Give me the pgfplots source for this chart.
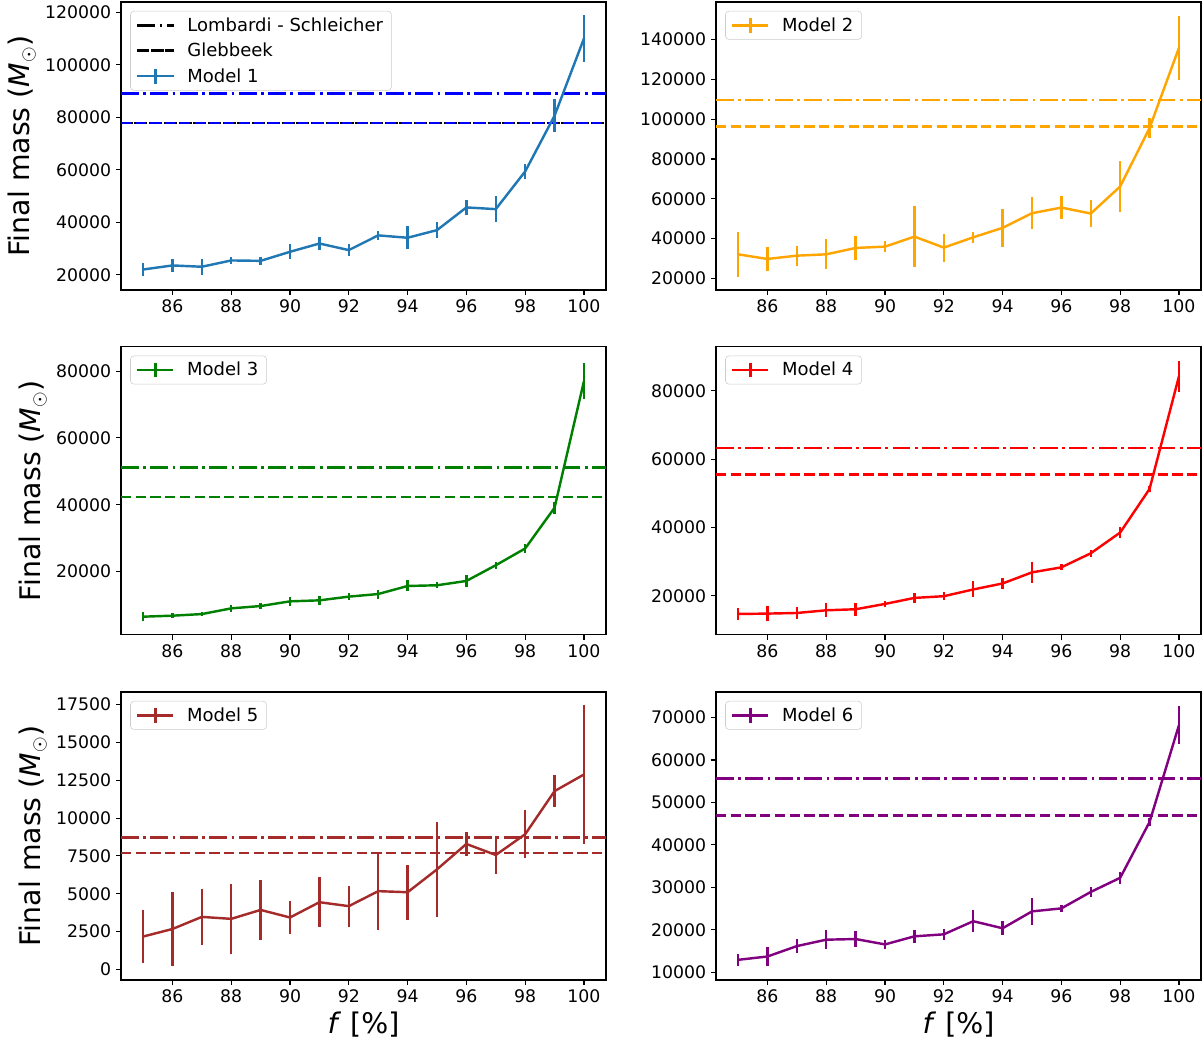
\documentclass[border=0pt]{standalone}
\usepackage{fontspec}
\setmainfont{DejaVu Sans}
\usepackage{pgfplots}
\pgfplotsset{compat=1.18}

\definecolor{c0}{HTML}{1F77B4}
\definecolor{morange}{HTML}{FFA500}
\definecolor{mgreen}{HTML}{008000}
\definecolor{mred}{HTML}{FF0000}
\definecolor{mbrown}{HTML}{A52A2A}
\definecolor{mpurple}{HTML}{800080}
\definecolor{mblue}{HTML}{0000FF}

\pgfplotsset{
  panel/.style={
    scale only axis, width=349.2bp, height=207.36bp, anchor=south west,
    xmin=84.25, xmax=100.75, xtick={86,88,...,100},
    xtick pos=bottom, ytick pos=left,
    tick align=outside, major tick length=3.5bp,
    tick style={black, line width=0.8bp},
    axis line style={line width=0.8bp},
    ticklabel style={font=\fontsize{12.5}{14}\selectfont},
    /pgf/number format/assume math mode=true,
    /pgf/number format/fixed,
    /pgf/number format/precision=0,
    /pgf/number format/1000 sep={},
    scaled y ticks=false,
    label style={font=\fontsize{20.5}{24}\selectfont},
    legend cell align=left,
    legend style={at={(0.019,0.969)}, anchor=north west,
      draw=black!20, fill=white, fill opacity=0.8, draw opacity=1, text opacity=1,
      rounded corners=2.5bp, font=\fontsize{13}{15}\selectfont,
      inner xsep=4bp, inner ysep=2.5bp, row sep=3bp,
      nodes={inner sep=2bp},
      /tikz/every odd column/.append style={column sep=7bp}},
  },
  model/.style={color=#1, line width=1.75bp, mark=none,
    legend image code/.code={
      \draw[##1] (0bp,0bp) -- (26bp,0bp);
      \draw[##1] (13bp,-5.3bp) -- (13bp,5.3bp);},
    error bars/.cd, y dir=both, y explicit, error mark=none,
    error bar style={line width=1.75bp, solid}},
  hl/.style={line width=2bp, mark=none,
    legend image code/.code={\draw[##1] (0bp,0bp) -- (26bp,0bp);}},
  ls/.style={hl, dash pattern=on 12.8bp off 3.2bp on 2bp off 3.2bp},
  gl/.style={hl, dash pattern=on 7.4bp off 3.2bp},
}

\begin{document}
\begin{tikzpicture}
\path[use as bounding box] (0,0) rectangle (865.44bp,750.96bp);

% Model 1
\begin{axis}[panel, at={(87.12bp,542.16bp)}, ymin=14200, ymax=123900,
  ytick={20000,40000,...,120000}, ylabel={Final mass (\textit{M}$_\odot$)}]
  \addplot[ls, black] coordinates {(84.25,89070) (100.75,89070)};
  \addlegendentry{Lombardi - Schleicher}
  \addplot[gl, black, dash pattern=on 9.4bp off 1.2bp, dash phase=1bp] coordinates {(84.25,77800) (100.75,77800)};
  \addlegendentry{Glebbeek}
  \addplot[ls, mblue, forget plot] coordinates {(84.25,89070) (100.75,89070)};
  \addplot[gl, mblue, forget plot] coordinates {(84.25,77800) (100.75,77800)};
  \addplot[model=c0] coordinates {
    (85,22000) +- (0,2300)
    (86,23550) +- (0,2500)
    (87,23050) +- (0,3000)
    (88,25450) +- (0,1300)
    (89,25300) +- (0,1400)
    (90,28750) +- (0,2800)
    (91,31900) +- (0,2400)
    (92,29400) +- (0,2400)
    (93,35000) +- (0,1800)
    (94,34100) +- (0,4400)
    (95,37000) +- (0,3000)
    (96,45650) +- (0,2900)
    (97,45000) +- (0,5000)
    (98,59350) +- (0,2900)
    (99,80600) +- (0,6300)
    (100,110000) +- (0,8900)
  };
  \addlegendentry{Model 1}
\end{axis}

% Model 2
\begin{axis}[panel, at={(515.52bp,542.16bp)}, ymin=14180, ymax=158900,
  ytick={20000,40000,...,140000}]
  \addplot[ls, morange, forget plot] coordinates {(84.25,109670) (100.75,109670)};
  \addplot[gl, morange, forget plot] coordinates {(84.25,96420) (100.75,96420)};
  \addplot[model=morange] coordinates {
    (85,32100) +- (0,11340)
    (86,29770) +- (0,6000)
    (87,31430) +- (0,5000)
    (88,32100) +- (0,7470)
    (89,35300) +- (0,6200)
    (90,35970) +- (0,2770)
    (91,41000) +- (0,15450)
    (92,35470) +- (0,7050)
    (93,40650) +- (0,2770)
    (94,45400) +- (0,9660)
    (95,52750) +- (0,8060)
    (96,55600) +- (0,5620)
    (97,52600) +- (0,6970)
    (98,66200) +- (0,12850)
    (99,95570) +- (0,4870)
    (100,135870) +- (0,15950)
  };
  \addlegendentry{Model 2}
\end{axis}

% Model 3
\begin{axis}[panel, at={(87.12bp,293.98bp)}, ymin=1100, ymax=87300,
  ytick={20000,40000,...,80000}, ylabel={Final mass (\textit{M}$_\odot$)}]
  \addplot[ls, mgreen, forget plot] coordinates {(84.25,51230) (100.75,51230)};
  \addplot[gl, mgreen, forget plot] coordinates {(84.25,42310) (100.75,42310)};
  \addplot[model=mgreen] coordinates {
    (85,6490) +- (0,1400)
    (86,6790) +- (0,800)
    (87,7270) +- (0,650)
    (88,8980) +- (0,950)
    (89,9680) +- (0,800)
    (90,11080) +- (0,1400)
    (91,11380) +- (0,1250)
    (92,12490) +- (0,1000)
    (93,13270) +- (0,1350)
    (94,15680) +- (0,1650)
    (95,15890) +- (0,850)
    (96,17180) +- (0,1800)
    (97,21890) +- (0,1050)
    (98,26900) +- (0,1300)
    (99,39100) +- (0,1750)
    (100,77000) +- (0,5500)
  };
  \addlegendentry{Model 3}
\end{axis}

% Model 4
\begin{axis}[panel, at={(515.52bp,293.98bp)}, ymin=8650, ymax=92900,
  ytick={20000,40000,...,80000}]
  \addplot[ls, mred, forget plot] coordinates {(84.25,63240) (100.75,63240)};
  \addplot[gl, mred, forget plot] coordinates {(84.25,55590) (100.75,55590)};
  \addplot[model=mred] coordinates {
    (85,14710) +- (0,1620)
    (86,14820) +- (0,2250)
    (87,15000) +- (0,1620)
    (88,15790) +- (0,2060)
    (89,16090) +- (0,1960)
    (90,17650) +- (0,930)
    (91,19410) +- (0,1370)
    (92,19910) +- (0,1130)
    (93,21880) +- (0,2350)
    (94,23640) +- (0,1720)
    (95,26880) +- (0,3040)
    (96,28350) +- (0,880)
    (97,32470) +- (0,1030)
    (98,38530) +- (0,1520)
    (99,51290) +- (0,780)
    (100,84240) +- (0,4460)
  };
  \addlegendentry{Model 4}
\end{axis}

% Model 5
\begin{axis}[panel, at={(87.12bp,45.36bp)}, ymin=-700, ymax=18330,
  ytick={0,2500,...,17500}, ylabel={Final mass (\textit{M}$_\odot$)},
  xlabel={\textit{f} [\%]}]
  \addplot[ls, mbrown, forget plot] coordinates {(84.25,8730) (100.75,8730)};
  \addplot[gl, mbrown, forget plot] coordinates {(84.25,7690) (100.75,7690)};
  \addplot[model=mbrown] coordinates {
    (85,2170) +- (0,1745)
    (86,2670) +- (0,2475)
    (87,3470) +- (0,1870)
    (88,3340) +- (0,2330)
    (89,3930) +- (0,2010)
    (90,3430) +- (0,1115)
    (91,4440) +- (0,1660)
    (92,4180) +- (0,1360)
    (93,5170) +- (0,2590)
    (94,5100) +- (0,1810)
    (95,6610) +- (0,3150)
    (96,8290) +- (0,820)
    (97,7560) +- (0,1225)
    (98,8930) +- (0,1600)
    (99,11780) +- (0,1080)
    (100,12880) +- (0,4575)
  };
  \addlegendentry{Model 5}
\end{axis}

% Model 6
\begin{axis}[panel, at={(515.52bp,45.36bp)}, ymin=8200, ymax=76000,
  ytick={10000,20000,...,70000}, xlabel={\textit{f} [\%]}]
  \addplot[ls, mpurple, forget plot] coordinates {(84.25,55600) (100.75,55600)};
  \addplot[gl, mpurple, forget plot] coordinates {(84.25,46980) (100.75,46980)};
  \addplot[model=mpurple] coordinates {
    (85,12950) +- (0,1460)
    (86,13730) +- (0,2300)
    (87,16180) +- (0,1740)
    (88,17690) +- (0,2300)
    (89,17840) +- (0,1940)
    (90,16580) +- (0,990)
    (91,18480) +- (0,1580)
    (92,18950) +- (0,1300)
    (93,22040) +- (0,2650)
    (94,20380) +- (0,1700)
    (95,24350) +- (0,3090)
    (96,25060) +- (0,750)
    (97,28930) +- (0,1110)
    (98,32260) +- (0,1460)
    (99,45400) +- (0,830)
    (100,68200) +- (0,4430)
  };
  \addlegendentry{Model 6}
\end{axis}
\end{tikzpicture}
\end{document}
